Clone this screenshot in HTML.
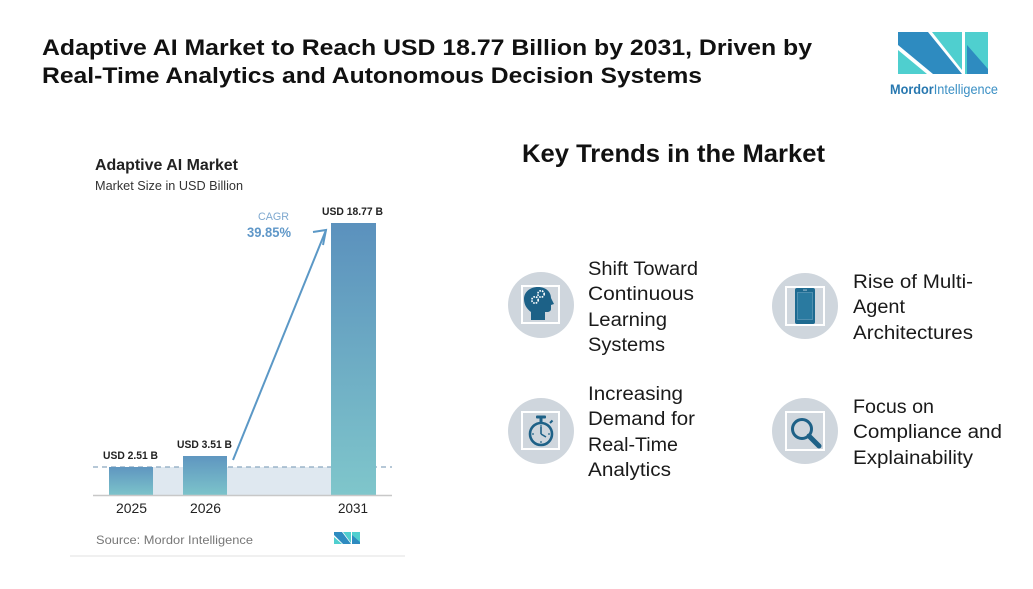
<!DOCTYPE html>
<html>
<head>
<meta charset="utf-8">
<style>
  html, body { margin: 0; padding: 0; background: #ffffff; }
  svg { display: block; }
  text { font-family: "Liberation Sans", Arial, sans-serif; }
</style>
</head>
<body>
<svg width="1033" height="589" viewBox="0 0 1033 589" xmlns="http://www.w3.org/2000/svg">
  <defs>
    <linearGradient id="barg" x1="0" y1="0" x2="0" y2="1">
      <stop offset="0" stop-color="#5b91bd"/>
      <stop offset="1" stop-color="#7fc6cb"/>
    </linearGradient>
    <linearGradient id="barsm" x1="0" y1="0" x2="0" y2="1">
      <stop offset="0" stop-color="#5f96c0"/>
      <stop offset="1" stop-color="#7cc3ca"/>
    </linearGradient>
  </defs>
  <rect x="0" y="0" width="1033" height="589" fill="#ffffff"/>

  <!-- Main title -->
  <text x="42" y="55" font-size="22" font-weight="bold" fill="#111" textLength="770" lengthAdjust="spacingAndGlyphs">Adaptive AI Market to Reach USD 18.77 Billion by 2031, Driven by</text>
  <text x="42" y="83" font-size="22" font-weight="bold" fill="#111" textLength="660" lengthAdjust="spacingAndGlyphs">Real-Time Analytics and Autonomous Decision Systems</text>

  <!-- Logo -->
  <g>
    <polygon points="898,50 898,74 927,74" fill="#4fcfcf"/>
    <polygon points="898,32 928,32 962,74 933,74 898,45" fill="#2e8bc0"/>
    <polygon points="932,32 962,32 962,70" fill="#4fcfcf"/>
    <rect x="965" y="32" width="23" height="42" fill="#4fcfcf"/>
    <polygon points="967,45 988,69 988,74 967,74" fill="#2e8bc0"/>
    <text x="890" y="94" font-size="14" textLength="108" lengthAdjust="spacingAndGlyphs"><tspan fill="#2878b0" font-weight="bold">Mordor</tspan><tspan fill="#3a8fc4">Intelligence</tspan></text>
  </g>

  <!-- Chart panel -->
  <text x="95" y="170" font-size="16" font-weight="bold" fill="#222" textLength="143" lengthAdjust="spacingAndGlyphs">Adaptive AI Market</text>
  <text x="95" y="190" font-size="13" fill="#333" textLength="148" lengthAdjust="spacingAndGlyphs">Market Size in USD Billion</text>

  <!-- band -->
  <rect x="153" y="467" width="179" height="28" fill="#dfe8f0"/>
  <!-- dashed line -->
  <line x1="93" y1="467" x2="392" y2="467" stroke="#8aa8bf" stroke-width="1.2" stroke-dasharray="5,4"/>

  <!-- bars -->
  <rect x="109" y="467" width="44" height="28" fill="url(#barsm)"/>
  <rect x="183" y="456" width="44" height="39" fill="url(#barsm)"/>
  <rect x="331" y="223" width="45" height="272" fill="url(#barg)"/>

  <!-- axis -->
  <line x1="93" y1="495.5" x2="392" y2="495.5" stroke="#c8c8c8" stroke-width="1.5"/>

  <!-- value labels -->
  <text x="103" y="459" font-size="11" font-weight="bold" fill="#222" textLength="55" lengthAdjust="spacingAndGlyphs">USD 2.51 B</text>
  <text x="177" y="448" font-size="11" font-weight="bold" fill="#222" textLength="55" lengthAdjust="spacingAndGlyphs">USD 3.51 B</text>
  <text x="322" y="215" font-size="11" font-weight="bold" fill="#222" textLength="61" lengthAdjust="spacingAndGlyphs">USD 18.77 B</text>

  <!-- years -->
  <text x="116" y="513" font-size="14" fill="#222" textLength="31" lengthAdjust="spacingAndGlyphs">2025</text>
  <text x="190" y="513" font-size="14" fill="#222" textLength="31" lengthAdjust="spacingAndGlyphs">2026</text>
  <text x="338" y="513" font-size="14" fill="#222" textLength="30" lengthAdjust="spacingAndGlyphs">2031</text>

  <!-- CAGR -->
  <text x="258" y="220" font-size="11" fill="#7ea8cf" textLength="31" lengthAdjust="spacingAndGlyphs">CAGR</text>
  <text x="247" y="237" font-size="14" font-weight="bold" fill="#5f97c8" textLength="44" lengthAdjust="spacingAndGlyphs">39.85%</text>

  <!-- arrow -->
  <line x1="233" y1="460" x2="326" y2="230" stroke="#5b98c6" stroke-width="2"/>
  <polyline points="313,232 326,230 323,245" fill="none" stroke="#5b98c6" stroke-width="2"/>

  <!-- source -->
  <text x="96" y="544" font-size="12" fill="#777" textLength="157" lengthAdjust="spacingAndGlyphs">Source: Mordor Intelligence</text>
  <!-- small logo -->
  <g>
    <polygon points="334,537 334,544 342,544" fill="#4fcfcf"/>
    <polygon points="334,532 342,532 351,544 343,544 334,535" fill="#2e8bc0"/>
    <polygon points="343,532 351,532 351,543" fill="#4fcfcf"/>
    <rect x="352" y="532" width="8" height="12" fill="#4fcfcf"/>
    <polygon points="352,535 360,542 360,544 352,544" fill="#2e8bc0"/>
  </g>
  <!-- bottom separator -->
  <rect x="70" y="555" width="335" height="2" fill="#f0f0f0"/>

  <!-- Key trends -->
  <text x="522" y="162" font-size="25" font-weight="bold" fill="#111" textLength="303" lengthAdjust="spacingAndGlyphs">Key Trends in the Market</text>

  <!-- icon 1: head with gears -->
  <circle cx="541" cy="305" r="33" fill="#cfd6dd"/>
  <rect x="522" y="286" width="37" height="37" fill="none" stroke="#ffffff" stroke-width="2"/>
  <path d="M531,320 L531,312 C527,309 524,305 524,299 C524,292 530,287 538,287 C546,287 551,292 551,298 L554,304 L551,305 L551,309 C551,311 549,312 547,312 L545,312 L545,320 Z" fill="#1c6187"/>
  <circle cx="535" cy="300" r="3.2" fill="none" stroke="#ffffff" stroke-width="1.6" stroke-dasharray="1.6,1"/>
  <circle cx="541" cy="294" r="3.2" fill="none" stroke="#ffffff" stroke-width="1.6" stroke-dasharray="1.6,1"/>

  <!-- icon 2: phone -->
  <circle cx="805" cy="306" r="33" fill="#cfd6dd"/>
  <rect x="786" y="287" width="38" height="38" fill="none" stroke="#ffffff" stroke-width="2"/>
  <rect x="795" y="288" width="20" height="36" rx="2" fill="#1e6a90"/>
  <rect x="797.5" y="292.5" width="15" height="27" fill="#2a7aa0" stroke="#4f8fb0" stroke-width="1"/>
  <rect x="803" y="289.5" width="4" height="1.2" fill="#8fb5c9"/>

  <!-- icon 3: stopwatch -->
  <circle cx="541" cy="431" r="33" fill="#cfd6dd"/>
  <rect x="522" y="412" width="37" height="37" fill="none" stroke="#ffffff" stroke-width="2"/>
  <circle cx="541" cy="434" r="11" fill="none" stroke="#1e6187" stroke-width="2.6"/>
  <rect x="539.5" y="418" width="3" height="4" fill="#1e6187"/>
  <rect x="536" y="415.5" width="10" height="3" rx="1" fill="#1e6187"/>
  <line x1="550" y1="423" x2="552.5" y2="420.5" stroke="#1e6187" stroke-width="2"/>
  <line x1="541" y1="434" x2="541" y2="427" stroke="#1e6187" stroke-width="1.6"/>
  <line x1="541" y1="434" x2="546" y2="437" stroke="#1e6187" stroke-width="1.6"/>
  <circle cx="541" cy="426" r="0.9" fill="#1e6187"/>
  <circle cx="541" cy="442" r="0.9" fill="#1e6187"/>
  <circle cx="533" cy="434" r="0.9" fill="#1e6187"/>
  <circle cx="549" cy="434" r="0.9" fill="#1e6187"/>

  <!-- icon 4: magnifier -->
  <circle cx="805" cy="431" r="33" fill="#cfd6dd"/>
  <rect x="786" y="412" width="38" height="38" fill="none" stroke="#ffffff" stroke-width="2"/>
  <circle cx="802" cy="429" r="9.5" fill="none" stroke="#1e6187" stroke-width="3"/>
  <line x1="809" y1="436" x2="819" y2="446" stroke="#1e6187" stroke-width="5" stroke-linecap="round"/>

  <!-- trend texts -->
  <g font-size="19" fill="#1a1a1a">
    <text x="588" y="275" textLength="110" lengthAdjust="spacingAndGlyphs">Shift Toward</text>
    <text x="588" y="300" textLength="106" lengthAdjust="spacingAndGlyphs">Continuous</text>
    <text x="588" y="326" textLength="79" lengthAdjust="spacingAndGlyphs">Learning</text>
    <text x="588" y="351" textLength="77" lengthAdjust="spacingAndGlyphs">Systems</text>

    <text x="588" y="400" textLength="95" lengthAdjust="spacingAndGlyphs">Increasing</text>
    <text x="588" y="425" textLength="107" lengthAdjust="spacingAndGlyphs">Demand for</text>
    <text x="588" y="451" textLength="90" lengthAdjust="spacingAndGlyphs">Real-Time</text>
    <text x="588" y="476" textLength="83" lengthAdjust="spacingAndGlyphs">Analytics</text>

    <text x="853" y="288" textLength="120" lengthAdjust="spacingAndGlyphs">Rise of Multi-</text>
    <text x="853" y="313" textLength="52" lengthAdjust="spacingAndGlyphs">Agent</text>
    <text x="853" y="339" textLength="120" lengthAdjust="spacingAndGlyphs">Architectures</text>

    <text x="853" y="413" textLength="81" lengthAdjust="spacingAndGlyphs">Focus on</text>
    <text x="853" y="438" textLength="149" lengthAdjust="spacingAndGlyphs">Compliance and</text>
    <text x="853" y="464" textLength="120" lengthAdjust="spacingAndGlyphs">Explainability</text>
  </g>
</svg>
</body>
</html>
